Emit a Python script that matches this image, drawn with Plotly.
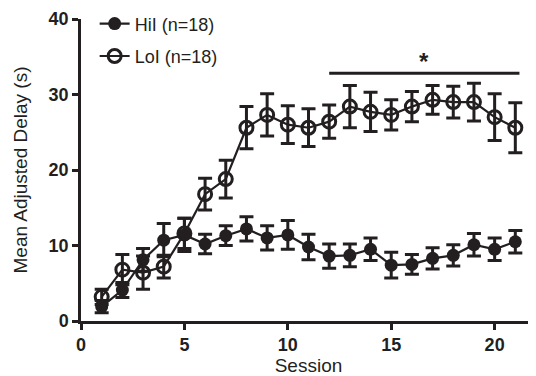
import plotly.graph_objects as go

sessions = list(range(1, 22))
hii_mean = [1.9, 4.1, 8.1, 10.7, 11.4, 10.2, 11.3, 12.2, 11.0, 11.4, 9.8, 8.6, 8.7, 9.5, 7.4, 7.5, 8.3, 8.7, 10.1, 9.5, 10.5]
hii_sem = [0.8, 1.0, 1.5, 2.2, 2.2, 1.3, 1.3, 1.6, 1.6, 1.9, 1.7, 1.6, 1.5, 1.5, 1.7, 1.3, 1.4, 1.4, 1.5, 1.5, 1.5]
loi_mean = [3.2, 6.8, 6.4, 7.2, 11.6, 16.8, 18.8, 25.6, 27.3, 26.0, 25.6, 26.4, 28.4, 27.7, 27.3, 28.4, 29.3, 29.0, 29.0, 27.0, 25.6]
loi_sem = [1.0, 2.0, 2.2, 1.5, 2.0, 2.1, 2.5, 2.8, 2.8, 2.5, 2.5, 2.2, 2.8, 2.6, 2.0, 2.0, 1.9, 2.1, 2.5, 3.1, 3.3]
sig_range = [12, 21.2]
sig_y = 32.8
x_ticks = [0, 5, 10, 15, 20]
y_ticks = [0, 10, 20, 30, 40]

ink = "#231f20"
font = "Liberation Sans, Arial, sans-serif"

fig = go.Figure()
fig.add_trace(go.Scatter(
    x=sessions, y=hii_mean, name="HiI (n=18)", mode="lines+markers", legendgroup="a",
    line=dict(color=ink, width=2.2),
    marker=dict(symbol="circle", size=13, color=ink),
    error_y=dict(type="data", array=hii_sem, color=ink, thickness=3, width=7),
))
fig.add_trace(go.Scatter(
    x=sessions, y=loi_mean, name="LoI (n=18)", mode="lines+markers", legendgroup="b",
    line=dict(color=ink, width=2.2),
    marker=dict(symbol="circle-open", size=13, color=ink, line=dict(width=3, color=ink)),
    error_y=dict(type="data", array=loi_sem, color=ink, thickness=3, width=7),
))
fig.add_trace(go.Scatter(
    x=sig_range, y=[sig_y, sig_y], mode="lines", showlegend=False,
    line=dict(color=ink, width=3), hoverinfo="skip",
))
fig.add_annotation(x=sum(sig_range) / 2, y=sig_y, text="<b>*</b>", showarrow=False,
                   yanchor="bottom", yshift=-4, font=dict(size=24, color=ink, family=font))

# page body has an 8px margin, so the figure is sized/offset to fit the 536x376 window
fig.update_layout(
    width=528, height=368,
    margin=dict(l=73, r=0, t=11, b=55, autoexpand=False),
    paper_bgcolor="white", plot_bgcolor="white",
    font=dict(family=font, color=ink, size=18),
    showlegend=True,
    legend=dict(x=0.03, y=1.045, xanchor="left", yanchor="top", traceorder="grouped",
                bgcolor="rgba(0,0,0,0)", font=dict(size=18), tracegroupgap=6),
)
fig.update_xaxes(
    range=[0, 22], tickvals=x_ticks, ticktext=[f"<b>{t}</b>" for t in x_ticks],
    showline=True, linecolor=ink, linewidth=2.5, ticks="outside", tickwidth=2.5,
    ticklen=6, tickcolor=ink, showgrid=False, zeroline=False, automargin=False,
    title=dict(text="Session", font=dict(size=19), standoff=0),
    tickfont=dict(size=18),
)
fig.update_yaxes(
    range=[0, 40], tickvals=y_ticks, ticktext=[f"<b>{t}</b>" for t in y_ticks],
    showline=True, linecolor=ink, linewidth=2.5, ticks="outside", tickwidth=2.5,
    ticklen=6, tickcolor=ink, showgrid=False, zeroline=False, automargin=False,
    title=dict(text="Mean Adjusted Delay (s)", font=dict(size=19), standoff=16),
    tickfont=dict(size=18),
)
fig.write_html("out.html")
